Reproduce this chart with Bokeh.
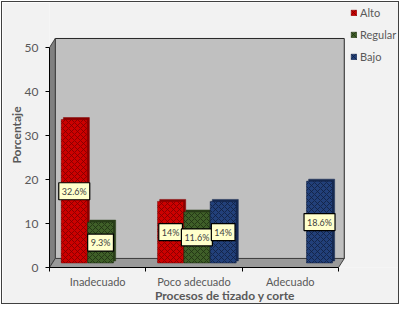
from bokeh.plotting import figure
from bokeh.models import FixedTicker, Legend, LegendItem, ColumnDataSource, Range1d
from bokeh.core.properties import value
from bokeh.embed import file_html
from bokeh.resources import INLINE

categories = ["Inadecuado", "Poco adecuado", "Adecuado"]
series = ["Alto", "Regular", "Bajo"]
alto = [32.6, 14, 0]
regular = [9.3, 11.6, 0]
bajo = [0, 14, 18.6]
y_ticks = [0, 10, 20, 30, 40, 50]

fills = ["#cc0000", "#3f5f28", "#22407a"]
hatches = ["#7a0000", "#1e2e12", "#101f40"]
sides = ["#8a0000", "#2a3f1a", "#162a52"]

DX = 0.06   # 3D depth in x (category units)
DY = 2.05   # 3D depth in y (value units)
YMAX = 50
NC = len(categories)

FONT = "Lato"

# frame spans the whole area right of / above the axes, so the legend is not clipped
W, H = 398, 303
ML, MB = 47, 38
PX_PER_CAT = 289 / NC
PX_PER_VAL = 220 / YMAX
x_end = (W - ML) / PX_PER_CAT
y_end = (H - MB) / PX_PER_VAL

p = figure(width=W, height=H, output_backend="svg", toolbar_location=None,
           x_range=Range1d(0, x_end), y_range=Range1d(0, y_end),
           min_border_left=ML, min_border_right=0, min_border_top=0, min_border_bottom=MB)
p.styles = {"border": "1px solid #404040", "margin": "1px 0 0 1px"}
p.background_fill_color = "#f2f2f2"
p.border_fill_color = "#f2f2f2"
p.outline_line_color = None
p.xgrid.visible = False
p.ygrid.visible = False

# 3D walls derived from the axis extents
p.quad(left=DX, right=NC + DX, bottom=DY, top=YMAX + DY, fill_color="#c0c0c0",
       line_color="#262626", line_width=1)
p.patch([0, DX, DX, 0], [0, DY, YMAX + DY, YMAX], fill_color="#808080",
        line_color="#404040", line_width=1)
p.patch([0, NC, NC + DX, DX], [0, 0, DY, DY], fill_color="#9a9a9a",
        line_color="#404040", line_width=1)

vals = [alto, regular, bajo]
BW = 0.27
STEP = 0.273
legend_items = []
lbl_x, lbl_y, lbl_t = [], [], []
for i, (name, v) in enumerate(zip(series, vals)):
    xs, tops = [], []
    for j, val in enumerate(v):
        if val > 0:
            xs.append(j + 0.5 + (i - 1) * STEP + DX / 2)
            tops.append(val + DY / 2)
            lbl_x.append(j + 0.5 + (i - 1) * STEP + DX / 2)
            lbl_y.append(val / 2 + DY / 2)
            lbl_t.append(f"{val:g}%")
    src = ColumnDataSource(dict(x=xs, top=tops, xs=[x + 0.022 for x in xs],
                                tops=[t + 0.45 for t in tops]))
    p.vbar(x="xs", top="tops", bottom=DY / 2 + 0.45, width=BW, source=src,
           fill_color=sides[i], line_color=sides[i], line_width=0.5)
    r = p.vbar(x="x", top="top", bottom=DY / 2, width=BW, source=src,
               fill_color=fills[i], line_color=hatches[i], line_width=0.5,
               hatch_pattern="diagonal_cross", hatch_color=hatches[i],
               hatch_scale=6, hatch_weight=1, hatch_alpha=0.8)
    legend_items.append(LegendItem(label=name, renderers=[r]))

lsrc = ColumnDataSource(dict(x=lbl_x, y=lbl_y, t=lbl_t))
p.text(x="x", y="y", text="t", source=lsrc, text_align="center", text_baseline="middle",
       text_font=value(FONT), text_font_size="9px", text_color="#404040",
       background_fill_color="#ffffcc", border_line_color="#000000", border_line_width=1.2,
       padding=3)

# axes
yax = p.yaxis[0]
yax.ticker = FixedTicker(ticks=y_ticks)
yax.bounds = (0, YMAX)
yax.axis_line_color = "#000000"
yax.major_tick_line_color = "#000000"
yax.major_tick_out = 4
yax.major_tick_in = 0
yax.minor_tick_line_color = None
yax.major_label_text_font = FONT
yax.major_label_text_font_size = "12px"
yax.major_label_text_color = "#595959"
yax.major_label_standoff = 7
yax.axis_label = "Porcentaje"
yax.axis_label_text_font = FONT
yax.axis_label_text_font_size = "12px"
yax.axis_label_text_font_style = "bold"
yax.axis_label_text_color = "#595959"
yax.axis_label_standoff = -2

xax = p.xaxis[0]
xax.ticker = FixedTicker(ticks=[j + 0.5 for j in range(NC)], minor_ticks=list(range(NC + 1)))
xax.major_label_overrides = {j + 0.5: c for j, c in enumerate(categories)}
xax.bounds = (0, NC)
xax.axis_line_color = "#000000"
xax.major_tick_out = 0
xax.major_tick_in = 0
xax.minor_tick_out = 4
xax.minor_tick_in = 0
xax.minor_tick_line_color = "#000000"
xax.major_label_text_font = FONT
xax.major_label_text_font_size = "11px"
xax.major_label_text_color = "#595959"
xax.major_label_standoff = 3
xax.axis_label = "Procesos de tizado y corte"
xax.axis_label_text_font = FONT
xax.axis_label_text_font_size = "12px"
xax.axis_label_text_font_style = "bold"
xax.axis_label_text_color = "#595959"
xax.axis_label_standoff = -3

legend = Legend(items=legend_items, location=(301, 203), padding=0, margin=0,
                glyph_width=7, glyph_height=7, label_height=16, spacing=6,
                label_standoff=3, label_text_font=FONT, label_text_font_size="11px",
                label_text_color="#595959", background_fill_alpha=0,
                border_line_color=None)
p.add_layout(legend)

open("out.html", "w").write(file_html(p, INLINE))
